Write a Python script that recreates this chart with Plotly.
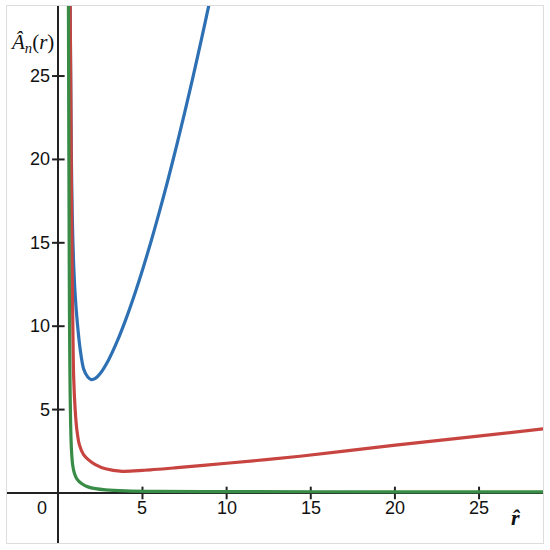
import plotly.graph_objects as go

# ---- data ----
blue_r = [0.70, 0.73, 0.77, 0.83, 0.90, 1.0, 1.13, 1.3, 1.5, 1.75, 1.96, 2.2, 2.5, 3.0, 3.5, 4.0, 4.5, 5.0, 5.5, 6.0, 6.5, 7.0, 7.5, 8.0, 8.5, 9.0, 9.5]
blue_a = [30.0, 25.5, 20.5, 16.5, 14.0, 11.9, 10.2, 8.6, 7.45, 6.95, 6.8, 6.87, 7.18, 8.01, 9.10, 10.38, 11.81, 13.37, 15.05, 16.84, 18.72, 20.71, 22.78, 24.94, 27.18, 29.51, 31.92]

red_r = [0.70, 0.74, 0.78, 0.82, 0.86, 0.91, 1.0, 1.1, 1.25, 1.5, 1.78, 2.2, 2.8, 3.8, 5.0, 6.9, 10.0, 14.36, 19.9, 24.0, 29.5]
red_a = [29.5, 24.0, 18.0, 13.5, 10.2, 7.0, 5.0, 3.8, 2.9, 2.3, 2.0, 1.7, 1.45, 1.3, 1.35, 1.5, 1.78, 2.2, 2.85, 3.3, 3.92]

green_r = [0.60, 0.62, 0.64, 0.66, 0.69, 0.73, 0.78, 0.85, 0.95, 1.1, 1.4, 1.8, 2.2, 2.8, 4.0, 6.0, 10.0, 20.0, 29.5]
green_a = [29.5, 22.0, 16.0, 11.0, 7.0, 4.2, 2.6, 1.7, 1.2, 0.85, 0.55, 0.35, 0.26, 0.19, 0.13, 0.10, 0.08, 0.07, 0.07]

x_ticks = [5, 10, 15, 20, 25]
y_ticks = [5, 10, 15, 20, 25]
x_tick_labels = ["5", "10", "15", "20", "25"]
y_tick_labels = ["5", "10", "15", "20", "25"]
origin_label = "0"
y_title = "<i>Â</i><sub><i>n</i></sub>(<i>r</i>)"
x_title = "<b><i>r̂</i></b>"

BLUE = "#2d70b3"
RED = "#c74440"
GREEN = "#388c46"

fig = go.Figure()

# tick marks (crossing the axes)
fig.add_trace(go.Scatter(x=x_ticks, y=[0] * len(x_ticks), mode="markers",
                         marker=dict(symbol="line-ns", size=9, line=dict(color="#222", width=2)),
                         hoverinfo="skip", showlegend=False, cliponaxis=False))
fig.add_trace(go.Scatter(x=[0] * len(y_ticks), y=y_ticks, mode="markers",
                         marker=dict(symbol="line-ew", size=9, line=dict(color="#222", width=2)),
                         hoverinfo="skip", showlegend=False, cliponaxis=False))

for r, a, c in [(blue_r, blue_a, BLUE), (red_r, red_a, RED), (green_r, green_a, GREEN)]:
    fig.add_trace(go.Scatter(x=r, y=a, mode="lines",
                             line=dict(color=c, width=3.2, shape="spline", smoothing=0.8),
                             showlegend=False))

FONT = "Liberation Sans, Arial"
ann = []
for v, t in zip(x_ticks, x_tick_labels):
    ann.append(dict(x=v, y=0, text=t, showarrow=False, xanchor="center", yanchor="middle",
                    yshift=-15, font=dict(size=18, color="#111", family=FONT)))
for v, t in zip(y_ticks, y_tick_labels):
    ann.append(dict(x=0, y=v, text=t, showarrow=False, xanchor="right", yanchor="middle",
                    xshift=-6, font=dict(size=18, color="#111", family=FONT)))
ann.append(dict(x=0, y=0, text=origin_label, showarrow=False, xanchor="right", yanchor="middle",
                xshift=-9, yshift=-15, font=dict(size=18, color="#111", family=FONT)))
ann.append(dict(x=0, y=27.0, text=y_title, showarrow=False, xanchor="right", yanchor="middle",
                xshift=-2, font=dict(size=21, color="#111", family="Liberation Serif, DejaVu Serif")))
ann.append(dict(x=27.2, y=-1.45, text=x_title, showarrow=False, xanchor="center", yanchor="middle",
                font=dict(size=22, color="#111", family="Liberation Serif, DejaVu Serif")))

fig.update_layout(
    width=550, height=550,
    margin=dict(l=7, r=7, t=6, b=7),
    paper_bgcolor="white", plot_bgcolor="white",
    annotations=ann,
    xaxis=dict(range=[-3.05, 28.8], showgrid=False, showticklabels=False, ticks="",
               zeroline=True, zerolinecolor="#222", zerolinewidth=2,
               showline=True, mirror=True, linecolor="#dddddd", linewidth=1),
    yaxis=dict(range=[-3.0, 29.2], showgrid=False, showticklabels=False, ticks="",
               zeroline=True, zerolinecolor="#222", zerolinewidth=2,
               showline=True, mirror=True, linecolor="#dddddd", linewidth=1),
)

fig.write_html("out.html", config={"displayModeBar": False},
               post_script="document.body.style.margin='0px';")
